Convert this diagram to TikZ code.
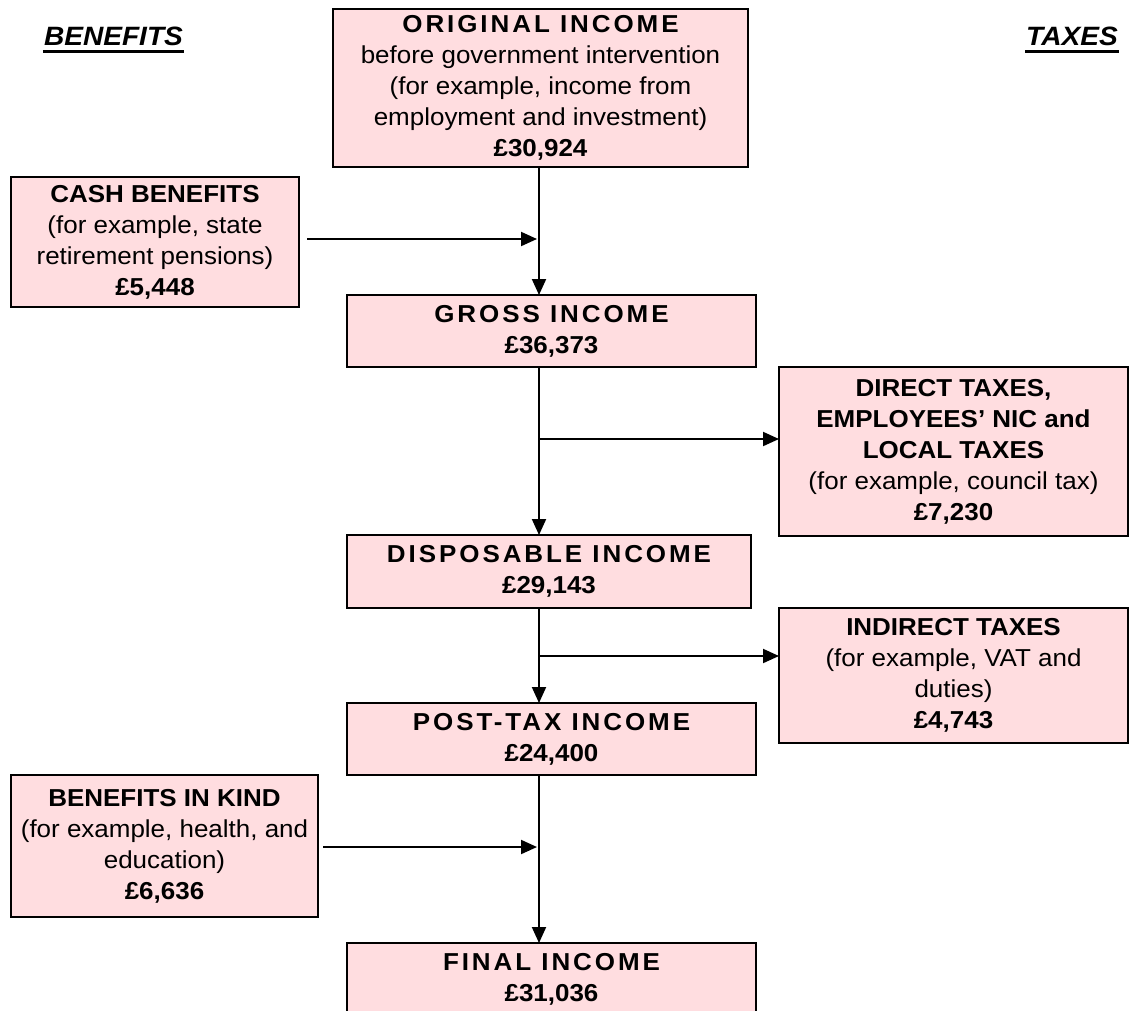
\documentclass[tikz,border=0pt]{standalone}
\usepackage{fontspec}
\setmainfont{Liberation Sans}[FakeStretch=1.06]
\newfontfamily\spacedfont{Liberation Sans}[LetterSpace=12,FakeStretch=1.06]
\usetikzlibrary{arrows.meta}
\definecolor{boxpink}{RGB}{255,221,224}
\begin{document}
\begin{tikzpicture}[x=1pt,y=-1pt,
  box/.style={draw=black, line width=1.4pt, fill=boxpink, inner sep=0pt, outer sep=0pt,
    align=center, font=\fontsize{24.5}{31}\selectfont},
  arr/.style={line width=2pt, -{Triangle[length=16pt,width=14pt]}},
  hd/.style={font=\fontsize{26.5}{30}\selectfont\bfseries\itshape, inner sep=0pt, anchor=base},
  uline/.style={line width=3pt}
]
\useasboundingbox (0,0) rectangle (1129,1010);
\clip (0,0) rectangle (1129,1010);

% headings
\node[hd] (benh) at (113.5,45) {BENEFITS};
\node[hd] (taxh) at (1072,45) {TAXES};
\draw[uline] ([yshift=-6.5pt,xshift=-1pt]benh.base west) -- ([yshift=-6.5pt,xshift=1pt]benh.base east);
\draw[uline] ([yshift=-6.5pt,xshift=-1pt]taxh.base west) -- ([yshift=-6.5pt,xshift=1pt]taxh.base east);

% boxes
\node[box, minimum width=415pt, minimum height=158pt] (orig) at (540.5,88)
  {{\spacedfont\bfseries ORIGINAL INCOME}\\ before government intervention\\ (for example, income from\\ employment and investment)\\ \textbf{£30,924}};
\node[box, minimum width=288pt, minimum height=130pt] (cash) at (155,242)
  {\textbf{CASH BENEFITS}\\ (for example, state\\ retirement pensions)\\ \textbf{£5,448}};
\node[box, minimum width=409pt, minimum height=72pt] (gross) at (551.5,331)
  {{\spacedfont\bfseries GROSS INCOME}\\ \textbf{£36,373}};
\node[box, minimum width=349pt, minimum height=169pt] (direct) at (953.5,451.5)
  {\textbf{DIRECT TAXES,}\\ \textbf{EMPLOYEES’ NIC and}\\ \textbf{LOCAL TAXES}\\ (for example, council tax)\\ \textbf{£7,230}};
\node[box, minimum width=404pt, minimum height=73pt] (disp) at (549,571.5)
  {{\spacedfont\bfseries DISPOSABLE INCOME}\\ \textbf{£29,143}};
\node[box, minimum width=349pt, minimum height=135pt] (indirect) at (953.5,675.5)
  {\textbf{INDIRECT TAXES}\\ (for example, VAT and\\ duties)\\ \textbf{£4,743}};
\node[box, minimum width=409pt, minimum height=72pt] (post) at (551.5,739)
  {{\spacedfont\bfseries POST-TAX INCOME}\\ \textbf{£24,400}};
\node[box, minimum width=307pt, minimum height=142pt] (bik) at (164.5,846)
  {\textbf{BENEFITS IN KIND}\\ (for example, health, and\\ education)\\ \textbf{£6,636}};
\node[box, minimum width=409pt, minimum height=72pt, anchor=north] (final) at (551.5,943)
  {{\spacedfont\bfseries FINAL INCOME}\\ \textbf{£31,036}};

% spine and junctions
\coordinate (spine) at (539,0);
\coordinate (jc) at (539,239);
\coordinate (jd) at (539,439);
\coordinate (ji) at (539,656);
\coordinate (jb) at (539,847);

% main flow
\draw[arr] (spine |- orig.south) -- (spine |- gross.north);
\draw[arr] (spine |- gross.south) -- (spine |- disp.north);
\draw[arr] (spine |- disp.south) -- (spine |- post.north);
\draw[arr] (spine |- post.south) -- (spine |- final.north);

% side flows
\draw[arr, shorten >=2pt] ([xshift=8pt]cash.east |- jc) -- (jc);
\draw[arr] (jd) -- (jd -| direct.west);
\draw[arr] (ji) -- (ji -| indirect.west);
\draw[arr, shorten >=2pt] ([xshift=5pt]bik.east |- jb) -- (jb);
\end{tikzpicture}
\end{document}
